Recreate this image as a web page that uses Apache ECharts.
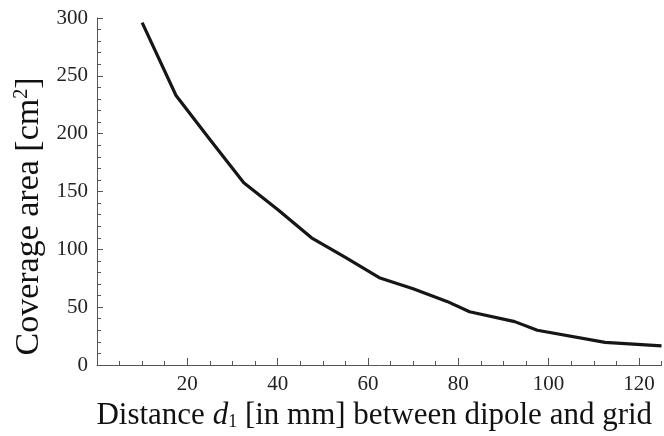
<!DOCTYPE html>
<html>
<head>
<meta charset="utf-8">
<script src="https://cdn.jsdelivr.net/npm/echarts@6/dist/echarts.min.js"></script>
<style>html,body{margin:0;padding:0;background:#fff;}#c{width:664px;height:436px;}</style>
</head>
<body>
<div id="c"></div>
<script>
var distances = [10, 17.5, 25, 32.5, 40, 47.5, 55, 62.5, 70, 77.5, 82.5, 92.5, 97.5, 112.5, 125];
var coverage = [296, 233, 195, 157.5, 134.5, 110, 93, 75.5, 66, 55, 46, 37.5, 30, 19.5, 16.5];
var xTickLabels = [20, 40, 60, 80, 100, 120];
var yTickLabels = [0, 50, 100, 150, 200, 250, 300];

var FONT = '"Liberation Serif", "Times New Roman", serif';
var chart = echarts.init(document.getElementById('c'), null, {renderer: 'canvas'});
var pts = distances.map(function (d, i) { return [d, coverage[i]]; });

chart.setOption({
  animation: false,
  backgroundColor: '#ffffff',
  grid: {left: 97, right: 2.5, top: 18, bottom: 71, containLabel: false},
  xAxis: [{
    type: 'value', min: 0, max: 125, interval: 5,
    axisLine: {show: true, lineStyle: {color: '#555', width: 1}},
    axisTick: {show: true, inside: true, length: 4, lineStyle: {color: '#555'}},
    splitLine: {show: false},
    axisLabel: {customValues: xTickLabels, fontFamily: FONT, fontSize: 21, color: '#222', margin: 9},
    name: '{t|Distance }{i|d}{s|1}{t| [in mm] between dipole and grid}',
    nameLocation: 'middle', nameGap: 29,
    nameTextStyle: {
      padding: [0, 10, 0, 0],
      rich: {
        t: {fontFamily: FONT, fontSize: 31, color: '#111'},
        i: {fontFamily: FONT, fontSize: 31, fontStyle: 'italic', color: '#111'},
        s: {fontFamily: FONT, fontSize: 18, color: '#111', verticalAlign: 'bottom', padding: [12, 0, 0, 0]}
      }
    }
  }, {
    type: 'value', min: 0, max: 125, interval: 20, position: 'bottom',
    axisLine: {show: false},
    axisTick: {show: true, inside: true, length: 7, customValues: [0].concat(xTickLabels), lineStyle: {color: '#555'}},
    axisLabel: {show: false},
    splitLine: {show: false}
  }],
  yAxis: {
    type: 'value', min: 0, max: 300, interval: 50,
    axisLine: {show: true, lineStyle: {color: '#555', width: 1}},
    axisTick: {show: true, inside: true, length: 6, lineStyle: {color: '#555'}},
    minorTick: {show: true, splitNumber: 5, length: 4, lineStyle: {color: '#555'}},
    splitLine: {show: false},
    axisLabel: {customValues: yTickLabels, fontFamily: FONT, fontSize: 21, color: '#222', margin: 9},
    name: '{t|Coverage area [cm}{p|2}{t|]}',
    nameLocation: 'middle', nameGap: 49,
    nameTextStyle: {
      padding: [0, 50, 0, 0],
      rich: {
        t: {fontFamily: FONT, fontSize: 34, color: '#111'},
        p: {fontFamily: FONT, fontSize: 20, color: '#111', verticalAlign: 'top', padding: [0, 0, 12, 0]}
      }
    }
  },
  series: [{
    type: 'line', xAxisIndex: 0, data: pts, showSymbol: false, smooth: false,
    lineStyle: {color: '#161616', width: 3.2}
  }]
});
</script>
</body>
</html>
